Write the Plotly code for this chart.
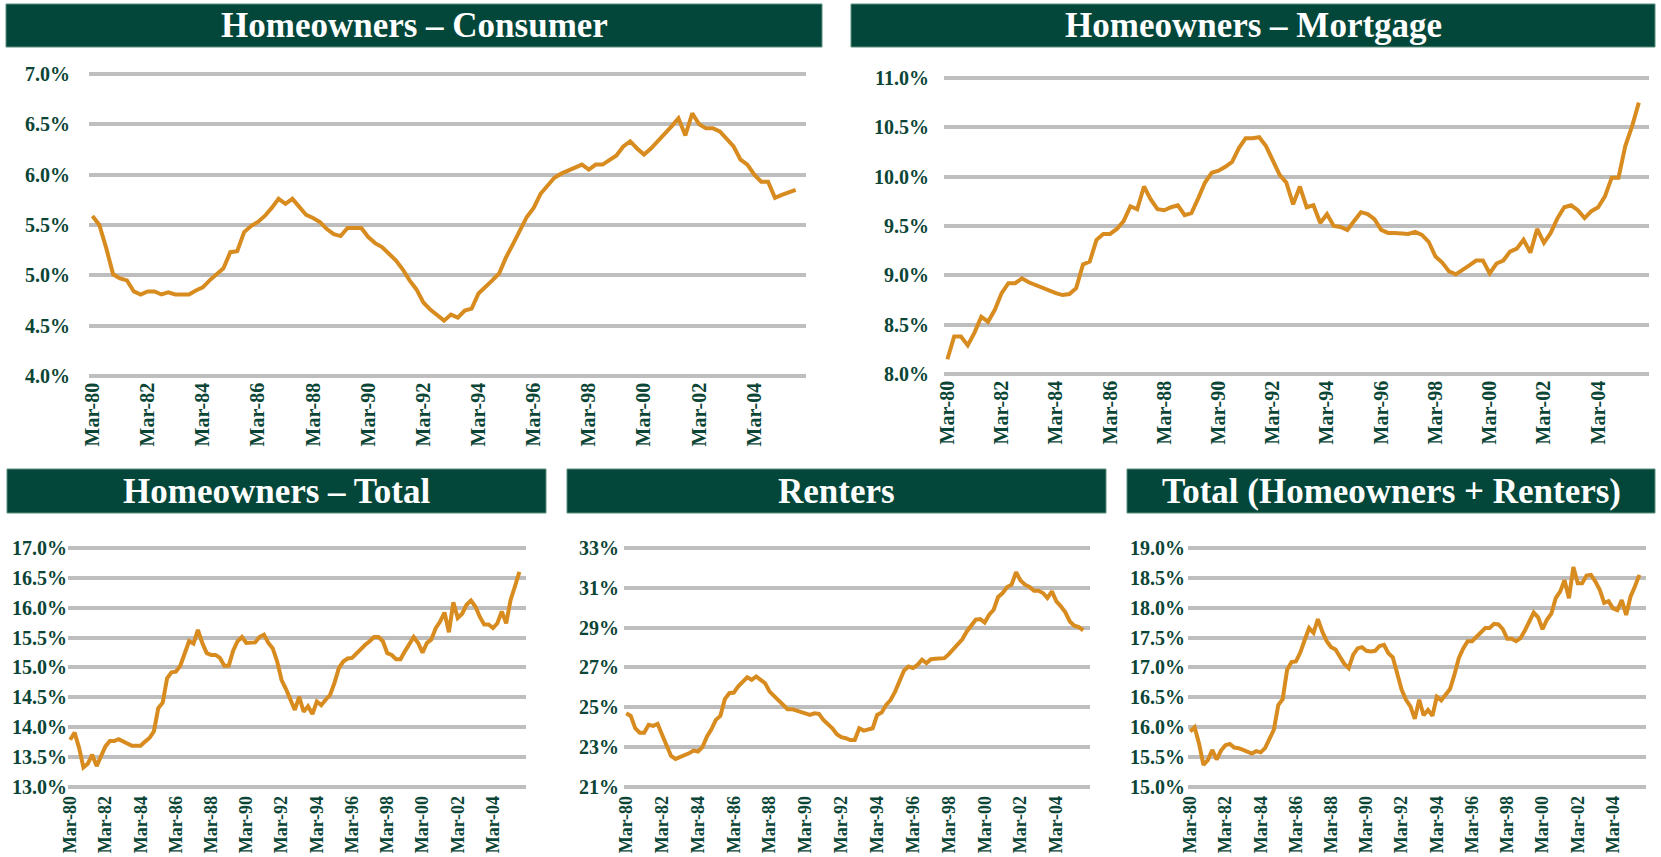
import plotly.graph_objects as go

W, H = 1661, 857

# Quarter categories Mar-80 ... Sep-05
quarters = [f"{m}-{y % 100:02d}" for y in range(1980, 2006) for m in ("Mar", "Jun", "Sep", "Dec")][:103]
tick_labels = quarters[0::8]

consumer = [5.59,5.50,5.27,5.01,4.97,4.95,4.84,4.81,4.84,4.84,
            4.81,4.83,4.81,4.81,4.81,4.85,4.88,4.95,5.01,5.07,
            5.23,5.24,5.43,5.49,5.53,5.59,5.67,5.76,5.71,5.76,
            5.68,5.60,5.57,5.53,5.46,5.41,5.39,5.47,5.47,5.47,
            5.38,5.32,5.28,5.22,5.15,5.06,4.95,4.86,4.73,4.66,
            4.61,4.55,4.61,4.58,4.65,4.67,4.82,4.88,4.95,5.02,
            5.18,5.31,5.44,5.58,5.67,5.81,5.89,5.97,6.01,6.04,
            6.08,6.10,6.05,6.10,6.10,6.14,6.19,6.28,6.33,6.26,
            6.20,6.26,6.33,6.41,6.48,6.56,6.39,6.61,6.50,6.46,
            6.46,6.43,6.35,6.28,6.15,6.10,6.00,5.93,5.93,5.77,
            5.80,5.82,5.85]

mortgage = [8.15,8.38,8.38,8.29,8.42,8.58,8.53,8.65,8.82,8.92,
            8.92,8.97,8.93,8.90,8.87,8.84,8.82,8.80,8.81,8.87,
            9.11,9.14,9.36,9.42,9.42,9.47,9.55,9.70,9.67,9.90,
            9.77,9.67,9.66,9.69,9.71,9.61,9.63,9.78,9.94,10.04,
            10.06,10.10,10.15,10.29,10.39,10.39,10.40,10.31,10.17,10.02,
            9.94,9.72,9.90,9.69,9.71,9.53,9.62,9.50,9.49,9.46,
            9.55,9.64,9.62,9.57,9.46,9.43,9.43,9.42,9.42,9.44,
            9.41,9.34,9.19,9.13,9.04,9.01,9.05,9.10,9.15,9.15,
            9.02,9.12,9.15,9.24,9.27,9.36,9.23,9.47,9.33,9.43,
            9.58,9.69,9.71,9.66,9.58,9.65,9.69,9.80,9.99,9.99,
            10.31,10.51,10.75]

homeowners_total = [13.79,13.91,13.66,13.33,13.39,13.54,13.35,13.52,13.68,13.77,
                    13.77,13.80,13.76,13.73,13.69,13.69,13.69,13.76,13.82,13.93,
                    14.32,14.41,14.82,14.92,14.93,15.03,15.24,15.44,15.40,15.63,
                    15.41,15.24,15.21,15.21,15.16,15.03,15.03,15.28,15.44,15.51,
                    15.41,15.41,15.42,15.51,15.55,15.41,15.32,15.10,14.79,14.64,
                    14.46,14.29,14.51,14.26,14.35,14.22,14.43,14.37,14.46,14.54,
                    14.74,14.99,15.10,15.15,15.16,15.24,15.32,15.38,15.44,15.51,
                    15.51,15.44,15.24,15.21,15.14,15.14,15.27,15.38,15.51,15.41,
                    15.25,15.41,15.47,15.66,15.77,15.92,15.59,16.09,15.83,15.90,
                    16.05,16.12,16.02,15.85,15.72,15.72,15.66,15.74,15.94,15.74,
                    16.13,16.36,16.60]

renters = [24.70,24.57,23.95,23.73,23.73,24.12,24.07,24.17,23.62,23.11,
           22.56,22.41,22.49,22.56,22.69,22.83,22.78,23.00,23.53,23.90,
           24.37,24.57,25.41,25.71,25.74,26.05,26.25,26.51,26.38,26.55,
           26.38,26.21,25.79,25.58,25.34,25.17,24.91,24.91,24.84,24.74,
           24.67,24.62,24.70,24.67,24.37,24.15,23.95,23.65,23.50,23.45,
           23.36,23.36,23.95,23.83,23.87,23.95,24.62,24.74,25.12,25.37,
           25.79,26.35,26.85,27.05,26.97,27.13,27.39,27.22,27.42,27.44,
           27.44,27.47,27.67,27.92,28.17,28.42,28.81,29.15,29.40,29.43,
           29.26,29.65,29.90,30.54,30.74,31.04,31.16,31.78,31.37,31.16,
           31.04,30.85,30.85,30.74,30.49,30.82,30.32,30.07,29.77,29.31,
           29.10,29.03,28.86]

total = [15.93,16.00,15.73,15.37,15.45,15.62,15.46,15.61,15.70,15.72,
         15.66,15.65,15.62,15.59,15.56,15.60,15.58,15.65,15.79,15.96,
         16.37,16.47,16.96,17.09,17.10,17.25,17.46,17.66,17.58,17.81,
         17.60,17.44,17.34,17.30,17.18,17.06,16.99,17.21,17.32,17.34,
         17.28,17.27,17.28,17.36,17.38,17.24,17.17,16.91,16.63,16.46,
         16.35,16.14,16.46,16.20,16.29,16.19,16.51,16.45,16.56,16.64,
         16.88,17.16,17.32,17.44,17.44,17.52,17.60,17.66,17.66,17.73,
         17.72,17.64,17.48,17.48,17.44,17.49,17.62,17.77,17.92,17.84,
         17.64,17.80,17.90,18.16,18.27,18.46,18.16,18.68,18.41,18.41,
         18.54,18.55,18.44,18.30,18.08,18.11,17.99,17.96,18.13,17.88,
         18.19,18.36,18.55]

titles = ["Homeowners – Consumer", "Homeowners – Mortgage", "Homeowners – Total",
          "Renters", "Total (Homeowners + Renters)"]
series = [consumer, mortgage, homeowners_total, renters, total]
y_ranges = [(4.0, 7.0), (8.0, 11.0), (13.0, 17.0), (21.0, 33.0), (15.0, 19.0)]
y_dticks = [0.5, 0.5, 0.5, 2.0, 0.5]
y_formats = [".1f", ".1f", ".1f", ".0f", ".1f"]

# page-pixel geometry: plot box (x0, x1, y_top, y_bottom); title bar (x0, x1, y0, y1)
plot_boxes = [(89, 806, 74, 376), (944, 1649, 78, 374),
              (68, 526, 548, 787), (624, 1090, 548, 787), (1188, 1646, 548, 787)]
bars = [(6, 822, 4, 47), (851, 1655, 4, 47),
        (7, 546, 469, 513), (567, 1106, 469, 513), (1127, 1655, 469, 513)]
y_standoff = [18, 14, 0, 4, 2]
x_standoff = [0, 0, 3, 3, 3]
x_font = [20, 20, 18, 18, 18]


def px(v):
    return min(max(v / W, 0.0), 1.0)


def py(v):
    return min(max(1 - v / H, 0.0), 1.0)


GREEN = "#03473A"
TXT = "#0B4536"
ORANGE = "#D88B1F"
GRID = "#BEBEBE"
FONT = "Liberation Serif"

fig = go.Figure()
layout = dict(width=W, height=H, margin=dict(l=0, r=0, t=0, b=0, autoexpand=False),
              autosize=False, paper_bgcolor="white", plot_bgcolor="white",
              showlegend=False, shapes=[], annotations=[])

for k in range(5):
    n = k + 1
    xa = "x" if n == 1 else f"x{n}"
    ya = "y" if n == 1 else f"y{n}"
    fig.add_trace(go.Scatter(x=quarters, y=series[k], mode="lines",
                             line=dict(color=ORANGE, width=4),
                             xaxis=xa, yaxis=ya, hoverinfo="x+y"))
    x0, x1, yt, yb = plot_boxes[k]
    lo, hi = y_ranges[k]
    eps = (hi - lo) * 0.006
    ppu = (yb - yt) / (hi - lo)
    top_px = yt - eps * ppu
    bot_px = yb + eps * ppu
    xkey = "xaxis" if n == 1 else f"xaxis{n}"
    ykey = "yaxis" if n == 1 else f"yaxis{n}"
    layout[xkey] = dict(domain=[px(x0), px(x1)], anchor=ya, type="category",
                        range=[-0.5, 103.5], tickmode="array", tickvals=tick_labels,
                        ticktext=tick_labels, tickangle=-90, showgrid=False,
                        showline=False, zeroline=False, ticks="", automargin=False,
                        ticklabelstandoff=x_standoff[k],
                        tickfont=dict(family=FONT, size=x_font[k], color=TXT, weight="bold"))
    layout[ykey] = dict(domain=[py(bot_px), py(top_px)], anchor=xa,
                        range=[lo - eps, hi + eps], tick0=lo, dtick=y_dticks[k],
                        tickformat=y_formats[k], ticksuffix="%", automargin=False,
                        showgrid=True, gridcolor=GRID, gridwidth=3.5,
                        zeroline=False, showline=False, ticks="",
                        ticklabelstandoff=y_standoff[k],
                        tickfont=dict(family=FONT, size=20, color=TXT, weight="bold"))
    bx0, bx1, by0, by1 = bars[k]
    layout["shapes"].append(dict(type="rect", xref="paper", yref="paper",
                                 x0=px(bx0), x1=px(bx1), y0=py(by1), y1=py(by0),
                                 fillcolor=GREEN, line=dict(color="#5C8F80", width=1),
                                 layer="below"))
    layout["annotations"].append(dict(xref="paper", yref="paper",
                                      x=px((bx0 + bx1) / 2), y=py((by0 + by1) / 2),
                                      text=f"<b>{titles[k]}</b>", showarrow=False,
                                      xanchor="center", yanchor="middle",
                                      font=dict(family=FONT, size=35, color="white")))

fig.update_layout(**layout)
fig.write_html("out.html", config={"displayModeBar": False},
               post_script="document.body.style.margin='0px';"
                           "document.documentElement.style.overflow='hidden';")
